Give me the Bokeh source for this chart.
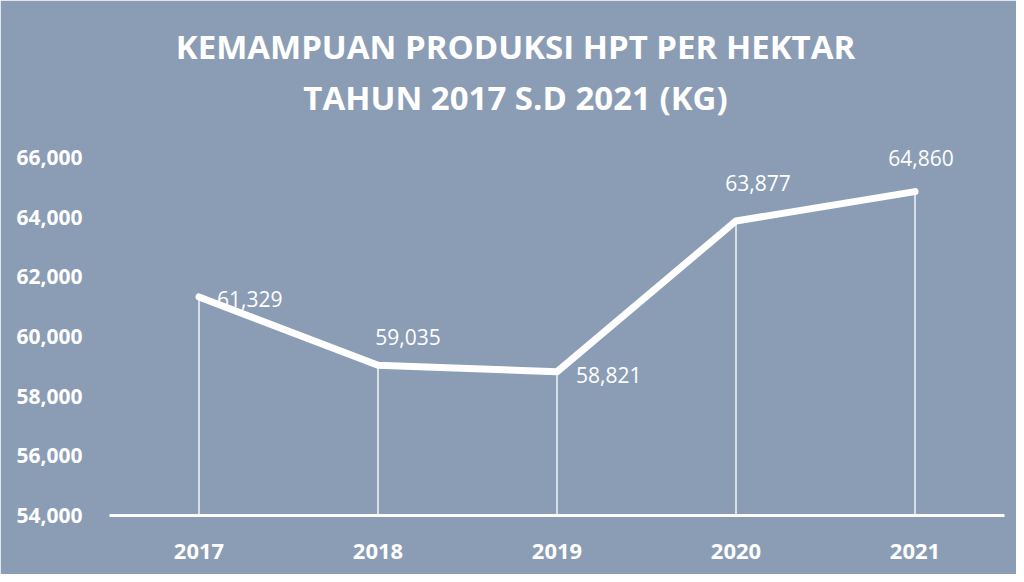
from bokeh.plotting import figure
from bokeh.models import ColumnDataSource, LabelSet, Label, NumeralTickFormatter, FixedTicker
from bokeh.core.properties import value
from bokeh.embed import file_html
from bokeh.resources import INLINE

years = ["2017", "2018", "2019", "2020", "2021"]
values = [61329, 59035, 58821, 63877, 64860]
value_labels = ["61,329", "59,035", "58,821", "63,877", "64,860"]
y_ticks = [54000, 56000, 58000, 60000, 62000, 64000, 66000]
title_lines = ["KEMAMPUAN PRODUKSI HPT PER HEKTAR", "TAHUN 2017 S.D 2021 (KG)"]

BG = "#8b9db5"
FONT = "Open Sans"

# label placement (screen px offsets from each point)
lab_dx = [18, 30, 19, 22, 6]
lab_dy = [-2, 28, -3, 38, 34]
lab_align = ["left", "center", "left", "center", "center"]

# plot area extends above the top tick so the title and labels sit inside it
p = figure(x_range=years, y_range=(54000, 71000), width=1016, height=574,
           output_backend="svg", toolbar_location=None,
           background_fill_color=BG, border_fill_color=BG,
           min_border_left=109, min_border_right=12, min_border_bottom=59, min_border_top=8)
p.outline_line_color = BG
p.outline_line_width = 2
p.grid.grid_line_color = None

# title lines (screen units relative to the plot frame)
for txt, sy in zip(title_lines, [469, 418]):
    p.add_layout(Label(x=406, y=sy, x_units="screen", y_units="screen", text=txt,
                       text_align="center", text_baseline="middle", text_color="white",
                       text_font=FONT, text_font_size="33px", text_font_style="bold"))

src = ColumnDataSource(dict(x=years, y=values, y0=[54000] * len(years), txt=value_labels,
                            dx=lab_dx, dy=lab_dy, al=lab_align))

p.segment(x0="x", y0="y0", x1="x", y1="y", source=src, line_color="white",
          line_width=1.5, line_alpha=0.9)
p.line(x="x", y="y", source=src, line_color="white", line_width=7, line_join="round",
       line_cap="round")

labels = LabelSet(x="x", y="y", text="txt", source=src, x_offset="dx", y_offset="dy",
                  text_align="al", text_baseline="middle", text_color="white",
                  text_font=value(FONT), text_font_size="21px")
p.add_layout(labels)

# y axis
p.yaxis.ticker = FixedTicker(ticks=y_ticks)
p.yaxis.formatter = NumeralTickFormatter(format="0,0")
p.yaxis.axis_line_color = None
p.yaxis.major_tick_line_color = None
p.yaxis.minor_tick_line_color = None
p.yaxis.major_label_standoff = 21
p.yaxis.major_label_text_color = "white"
p.yaxis.major_label_text_font = FONT
p.yaxis.major_label_text_font_size = "21px"
p.yaxis.major_label_text_font_style = "bold"

# x axis
p.xaxis.axis_line_color = "white"
p.xaxis.axis_line_width = 3
p.xaxis.major_tick_line_color = None
p.xaxis.minor_tick_line_color = None
p.xaxis.major_label_standoff = 22
p.xaxis.major_label_text_color = "white"
p.xaxis.major_label_text_font = FONT
p.xaxis.major_label_text_font_size = "22px"
p.xaxis.major_label_text_font_style = "bold"

open("out.html", "w").write(file_html(p, INLINE))
